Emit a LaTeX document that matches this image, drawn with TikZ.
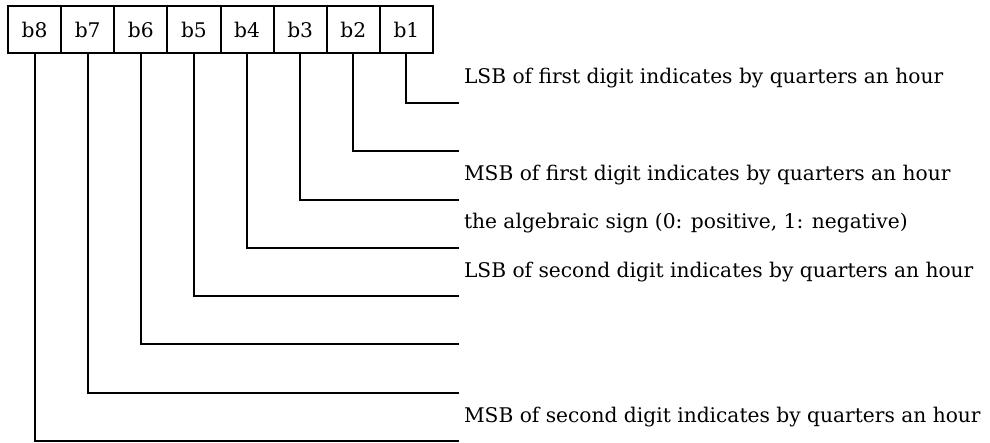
\documentclass[tikz,border=0pt]{standalone}
\usepackage{fontspec}
\setmainfont{DejaVu Serif}
\usetikzlibrary{positioning}

\begin{document}
\begin{tikzpicture}[x=0.5pt, y=-0.5pt, line width=1pt,
    bitbox/.style={draw, minimum width=26.56pt, minimum height=23.5pt,
        inner sep=0pt, outer sep=0pt, font=\fontsize{10.1}{12}\selectfont},
    bitlabel/.style={anchor=base west, inner sep=0pt, font=\fontsize{10.1}{12}\selectfont}]

    % ==========================================
    % 1. CANVAS
    % ==========================================
    \useasboundingbox (0, 0) rectangle (990, 443);

    % ==========================================
    % 2. BIT BOXES (b8 on the left, b1 on the right)
    % ==========================================
    \foreach \i in {1,...,8} {
        \node[bitbox] (b\i) at ({8 + 53.125*(8.5-\i)}, 29.5) {b\i};
    }

    % ==========================================
    % 3. LEADER LINES
    % ==========================================
    \foreach \i in {1,...,8} {
        \coordinate (e\i) at (459, {103 + 48.29*(\i-1)});
        \draw (b\i.south) |- (e\i);
    }

    % ==========================================
    % 4. MEANINGS
    % ==========================================
    \node[bitlabel] (l1) at ([xshift=2pt, yshift=9.5pt]e1) {LSB of first digit indicates by quarters an hour};
    \node[bitlabel] (l3) at ([xshift=2pt, yshift=9.5pt]e3) {MSB of first digit indicates by quarters an hour};
    \node[bitlabel] (l4) at ([xshift=2pt, yshift=9.5pt]e4) {the algebraic sign (0: positive, 1: negative)};
    \node[bitlabel] (l5) at ([xshift=2pt, yshift=9.5pt]e5) {LSB of second digit indicates by quarters an hour};
    \node[bitlabel] (l8) at ([xshift=2pt, yshift=9.5pt]e8) {MSB of second digit indicates by quarters an hour};

\end{tikzpicture}
\end{document}
